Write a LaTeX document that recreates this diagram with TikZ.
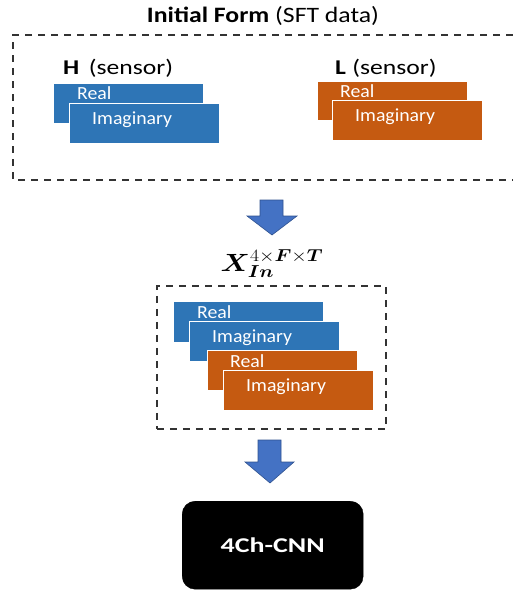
\documentclass[tikz,border=0pt]{standalone}
\usepackage{bm}
\usepackage{fontspec}
\setmainfont{Carlito}
\newfontfamily\titlefont{Carlito}[FakeStretch=1.17]
\newfontfamily\sensorfont{Carlito}[FakeStretch=1.22]
\newfontfamily\layerfont{Carlito}[FakeStretch=1.07]
\newfontfamily\cnnfont{Carlito}[FakeStretch=1.33]
\usetikzlibrary{positioning}
\definecolor{myblue}{HTML}{2E75B6}
\definecolor{myorange}{HTML}{C55A11}
\definecolor{arrowblue}{HTML}{4472C4}
\definecolor{arrowedge}{HTML}{2F528F}
\definecolor{dashgray}{HTML}{333333}
\tikzset{
  layer/.style={draw=white, line width=0.6pt, anchor=north west, minimum width=150pt, minimum height=40pt, inner sep=0pt},
  bluelayer/.style={layer, fill=myblue},
  orangelayer/.style={layer, fill=myorange},
  layertext/.style={text=white, font=\layerfont\fontsize{18.5}{18.5}\selectfont, anchor=base west, inner sep=0pt},
  dashbox/.style={draw=dashgray, line width=1.6pt, dash pattern=on 7pt off 6pt},
  bigarrow/.style={fill=arrowblue, draw=arrowedge, line width=0.6pt},
  lbl/.style={font=\sensorfont\fontsize{21}{21}\selectfont, inner sep=0pt}
}
\begin{document}
\begin{tikzpicture}[x=1pt,y=-1pt]
\useasboundingbox (0,0) rectangle (513,592);
% title
\node[inner sep=0pt, font=\titlefont\fontsize{22}{22}\selectfont, anchor=base] (title) at (263,22) {\textbf{Initial Form} (SFT data)};
% top dashed box (open to the right)
\coordinate (tbtr) at (513,35);
\coordinate (tbbr) at (513,180);
\draw[dashbox] (tbtr) -- (13,35) -- (13,180) -- (tbbr);
% H sensor
\node[lbl, anchor=base west] (hlab) at (63,74) {\textbf{H}\hspace{0.45em}(sensor)};
\node[bluelayer, minimum height=40pt] (hreal) at (53,83) {};
\node[layertext] (hrealt) at (77,99) {Real};
\node[bluelayer, minimum height=40pt] (himag) at (69,103) {};
\node[layertext] (himagt) at (92,124) {Imaginary};
% L sensor
\node[lbl, anchor=base west] (llab) at (335,74) {\textbf{L}\hspace{0.3em}(sensor)};
\node[orangelayer, minimum height=39pt] (lreal) at (317,81) {};
\node[layertext] (lrealt) at (340,97) {Real};
\node[orangelayer, minimum height=40pt] (limag) at (332,100) {};
\node[layertext] (limagt) at (355,121) {Imaginary};
% arrow 1
\draw[bigarrow] (260,200) -- (283,200) -- (283,216) -- (297,216) -- (272,235) -- (247,216) -- (260,216) -- cycle;
% X label
\node[inner sep=0pt, anchor=base] (xlab) at (272,271) {\scalebox{1.15}[1]{\fontsize{25}{25}\selectfont$\bm{X}_{\bm{In}}^{4\times \bm{F}\times \bm{T}}$}};
% middle dashed box
\node[dashbox, anchor=north west, minimum width=229pt, minimum height=143pt, inner sep=0pt] (mbox) at (156,285) {};
\node[bluelayer, minimum height=41pt] (mreal1) at (173,301) {};
\node[layertext] (mreal1t) at (197,318) {Real};
\node[bluelayer, minimum height=40pt] (mimag1) at (189,321) {};
\node[layertext] (mimag1t) at (212,342) {Imaginary};
\node[orangelayer, minimum height=40pt] (mreal2) at (207,350) {};
\node[layertext] (mreal2t) at (230,367) {Real};
\node[orangelayer, minimum height=40pt] (mimag2) at (223,370) {};
\node[layertext] (mimag2t) at (246,391) {Imaginary};
% arrow 2
\draw[bigarrow] (258,440) -- (281,440) -- (281,462) -- (294,462) -- (270,483) -- (245,462) -- (258,462) -- cycle;
% CNN box
\node[fill=black, draw=black, rounded corners=13pt, anchor=north west, minimum width=181pt, minimum height=88pt, inner sep=0pt, text=white, font=\cnnfont\fontsize{21}{21}\selectfont\bfseries] (cnn) at (182,501) {4Ch-CNN};
\end{tikzpicture}
\end{document}
